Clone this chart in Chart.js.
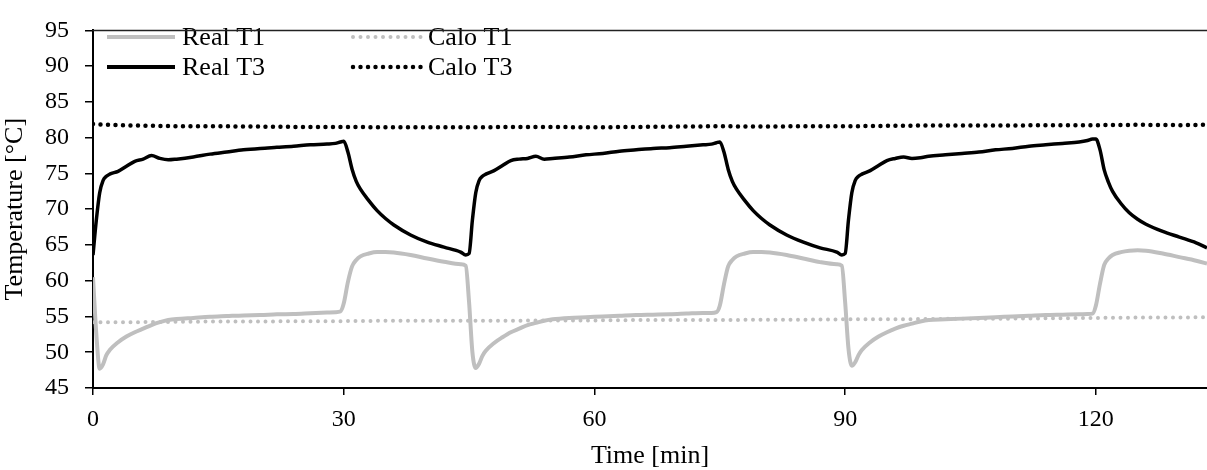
<!DOCTYPE html>
<html>
<head>
<meta charset="utf-8">
<script src="https://cdn.jsdelivr.net/npm/chart.js@4.4.1/dist/chart.umd.min.js"></script>
<style>
  body { margin: 0; background: #fff; }
</style>
</head>
<body>
<canvas id="chart" width="1207" height="470"></canvas>
<script>
// temps en minutes (mesures)
const timeReal = [
  0, 0.4, 0.8, 1.2, 1.6, 2, 3, 4, 5, 6, 7, 8, 9, 10, 12, 14, 16, 18, 20, 22, 24, 26, 28, 29, 29.6,
  30, 30.5, 31, 31.5, 32, 33, 34, 35, 36, 38, 40, 42, 44, 44.6,
  45, 45.4, 45.8, 46.2, 46.6, 47, 48, 49, 50, 51, 52, 53, 54, 55, 57, 59, 61, 63, 65, 67, 69, 71, 73, 74, 74.6,
  75, 75.5, 76, 76.5, 77, 78, 79, 80, 81, 83, 85, 87, 89, 89.6,
  90, 90.4, 90.8, 91.2, 91.6, 92, 93, 94, 95, 96, 97, 98, 99, 100, 102, 104, 106, 108, 110, 112, 114, 116, 118, 119, 119.6,
  120, 120.5, 121, 121.5, 122, 123, 124, 125, 126, 128, 130, 132, 133.3
];

const realT1 = [
  60.5, 52.5, 47.7, 48.3, 49.6, 50.3, 51.4, 52.2, 52.8, 53.3, 53.8, 54.2, 54.5, 54.65, 54.8, 54.95, 55.05, 55.15, 55.2, 55.3, 55.35, 55.45, 55.55, 55.6, 55.7,
  56.8, 59.8, 62.0, 62.9, 63.4, 63.8, 64.0, 64.0, 63.95, 63.6, 63.1, 62.65, 62.3, 62.1,
  57.0, 50.0, 47.8, 48.4, 49.5, 50.2, 51.3, 52.1, 52.8, 53.3, 53.8, 54.1, 54.4, 54.6, 54.8, 54.9, 55.0, 55.1, 55.2, 55.25, 55.3, 55.4, 55.5, 55.5, 55.6,
  56.5, 59.5, 62.0, 62.9, 63.4, 63.8, 64.0, 64.0, 63.95, 63.6, 63.1, 62.6, 62.3, 62.1,
  57.0, 50.5, 48.1, 48.6, 49.6, 50.3, 51.4, 52.2, 52.8, 53.3, 53.7, 54.0, 54.3, 54.5, 54.6, 54.7, 54.8, 54.9, 55.0, 55.1, 55.2, 55.25, 55.3, 55.35, 55.4,
  56.5, 59.6, 62.2, 63.1, 63.6, 64.0, 64.2, 64.25, 64.2, 63.8, 63.3, 62.8, 62.4
];

const realT3 = [
  63.6, 68.5, 72.3, 74.0, 74.6, 74.9, 75.3, 76.0, 76.7, 77.0, 77.5, 77.1, 76.9, 77.0, 77.3, 77.7, 78.0, 78.3, 78.5, 78.65, 78.8, 79.0, 79.1, 79.2, 79.4,
  79.5, 78.0, 75.6, 73.9, 72.8, 71.2, 69.8, 68.7, 67.8, 66.4, 65.4, 64.7, 64.0, 63.6,
  63.8, 68.5, 72.3, 74.0, 74.6, 74.9, 75.4, 76.1, 76.8, 77.0, 77.1, 77.4, 77.0, 77.1, 77.3, 77.6, 77.8, 78.1, 78.3, 78.5, 78.6, 78.8, 79.0, 79.1, 79.3,
  79.4, 78.0, 75.6, 73.9, 72.8, 71.2, 69.8, 68.7, 67.8, 66.4, 65.4, 64.6, 64.0, 63.6,
  63.8, 68.5, 72.3, 74.0, 74.6, 74.9, 75.4, 76.1, 76.8, 77.1, 77.3, 77.1, 77.2, 77.4, 77.6, 77.8, 78.0, 78.3, 78.5, 78.8, 79.0, 79.2, 79.4, 79.6, 79.8,
  79.8, 78.3, 75.5, 73.8, 72.5, 70.8, 69.5, 68.6, 67.9, 66.9, 66.1, 65.3, 64.6
];

// valeurs calorimètre
const timeCalo = [0, 2, 5, 10, 15, 20, 25, 30, 35, 40, 45, 50, 55, 60, 65, 70, 75, 80, 85, 90, 95, 100, 105, 110, 115, 120, 125, 130, 133.3];
const caloT1 = [54.2, 54.2, 54.2, 54.25, 54.3, 54.3, 54.35, 54.35, 54.4, 54.4, 54.4, 54.4, 54.45, 54.45, 54.5, 54.5, 54.5, 54.55, 54.55, 54.6, 54.6, 54.65, 54.7, 54.7, 54.75, 54.8, 54.85, 54.85, 54.9];
const caloT3 = [81.9, 81.8, 81.7, 81.6, 81.6, 81.55, 81.5, 81.5, 81.45, 81.45, 81.45, 81.5, 81.5, 81.45, 81.5, 81.55, 81.6, 81.55, 81.6, 81.6, 81.65, 81.7, 81.7, 81.7, 81.75, 81.75, 81.8, 81.75, 81.8];

const xTicks = [0, 30, 60, 90, 120];

const GRAY = '#bfbfbf';
const FONT = "'Liberation Serif', 'Times New Roman', serif";

function pts(xs, ys) {
  return xs.map((x, i) => ({x: x, y: ys[i]}));
}

// légende dessinée à l'intérieur du graphique (2 colonnes)
const insideLegend = {
  id: 'insideLegend',
  afterDraw(chart) {
    const ctx = chart.ctx;
    const items = [
      {text: 'Real T1', x: 107, y: 37, color: GRAY, dash: [], w: 4},
      {text: 'Real T3', x: 107, y: 67, color: '#000', dash: [], w: 4},
      {text: 'Calo T1', x: 353, y: 37, color: GRAY, dash: [0, 7.5], w: 4},
      {text: 'Calo T3', x: 353, y: 67, color: '#000', dash: [0, 7.5], w: 4.5}
    ];
    ctx.save();
    items.forEach(it => {
      ctx.beginPath();
      ctx.strokeStyle = it.color;
      ctx.lineWidth = it.w;
      ctx.lineCap = it.dash.length ? 'round' : 'butt';
      ctx.setLineDash(it.dash);
      ctx.moveTo(it.x, it.y);
      ctx.lineTo(it.x + 68, it.y);
      ctx.stroke();
      ctx.setLineDash([]);
      ctx.fillStyle = '#000';
      ctx.font = '26px ' + FONT;
      ctx.textBaseline = 'middle';
      ctx.fillText(it.text, it.x + 75, it.y + 1);
    });
    // bordure du haut
    const a = chart.chartArea;
    ctx.beginPath();
    ctx.strokeStyle = '#222';
    ctx.lineWidth = 1.5;
    ctx.moveTo(a.left, a.top);
    ctx.lineTo(a.right, a.top);
    ctx.stroke();
    ctx.restore();
  }
};

Chart.defaults.font.family = FONT;
Chart.defaults.color = '#000';

new Chart(document.getElementById('chart'), {
  type: 'line',
  data: {
    datasets: [
      {label: 'Calo T1', data: pts(timeCalo, caloT1), borderColor: GRAY, borderWidth: 4,
       borderDash: [0, 7.5], borderCapStyle: 'round', pointRadius: 0},
      {label: 'Calo T3', data: pts(timeCalo, caloT3), borderColor: '#000', borderWidth: 4.5,
       borderDash: [0, 7.5], borderCapStyle: 'round', pointRadius: 0},
      {label: 'Real T1', data: pts(timeReal, realT1), borderColor: GRAY, borderWidth: 4,
       pointRadius: 0, cubicInterpolationMode: 'monotone'},
      {label: 'Real T3', data: pts(timeReal, realT3), borderColor: '#000', borderWidth: 3.5,
       pointRadius: 0, cubicInterpolationMode: 'monotone'}
    ]
  },
  options: {
    responsive: false,
    animation: false,
    layout: {padding: {top: 21, right: 0, left: 0, bottom: 0}},
    plugins: {legend: {display: false}, tooltip: {enabled: false}},
    scales: {
      x: {
        type: 'linear', min: 0, max: 133.3,
        afterBuildTicks: s => { s.ticks = xTicks.map(v => ({value: v})); },
        afterFit: s => { s.height = 82; },
        grid: {drawOnChartArea: false, drawTicks: true, tickLength: 7, color: '#000', lineWidth: 1.5},
        border: {color: '#000', width: 2},
        ticks: {font: {size: 24}, padding: 10, maxRotation: 0},
        title: {display: true, text: 'Time [min]', font: {size: 26}, padding: {top: 0, bottom: -2}}
      },
      y: {
        min: 45, max: 95,
        afterFit: s => { s.width = 93; },
        grid: {drawOnChartArea: false, drawTicks: true, tickLength: 8, color: '#000', lineWidth: 1.5},
        border: {color: '#000', width: 2},
        ticks: {stepSize: 5, font: {size: 24}, padding: 16},
        title: {display: true, text: 'Temperature [°C]', font: {size: 26}, padding: {top: 0, bottom: 2}}
      }
    }
  },
  plugins: [insideLegend]
});
</script>
</body>
</html>
